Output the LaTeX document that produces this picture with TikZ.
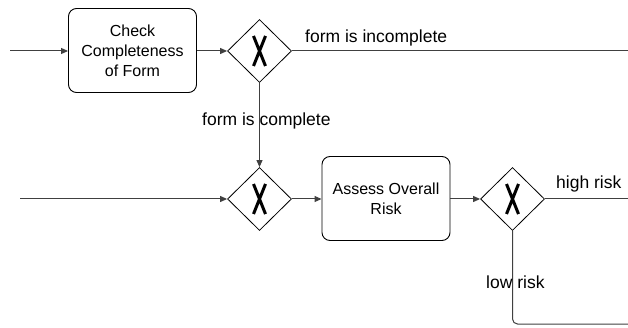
\documentclass[tikz,border=0pt]{standalone}
\usepackage{fontspec}
\setmainfont{Liberation Sans}
\usetikzlibrary{shapes.geometric,arrows.meta}
\begin{document}
\begin{tikzpicture}[x=1pt,y=-1pt,
  task/.style={draw=black,line width=0.9pt,rounded corners=8pt,minimum width=128pt,minimum height=84pt,
    align=center,inner sep=0pt,font=\fontsize{16}{20}\selectfont},
  gate/.style={draw=black,line width=0.8pt,diamond,minimum width=64pt,minimum height=63pt,inner sep=0pt,
    path picture={\draw[line width=3pt,black] ([xshift=-6pt,yshift=-15pt]path picture bounding box.center) -- ([xshift=6pt,yshift=15pt]path picture bounding box.center)
      ([xshift=-6pt,yshift=15pt]path picture bounding box.center) -- ([xshift=6pt,yshift=-15pt]path picture bounding box.center);}},
  flow/.style={draw=black!75,line width=1pt,-{Triangle[length=7pt,width=6pt]}},
  line/.style={draw=black!75,line width=1pt},
  lbl/.style={inner sep=0pt,anchor=base west,font=\fontsize{17.5}{20}\selectfont}]
\useasboundingbox (0,0) rectangle (628,328);
\node[task] (t1) at (132.5,50.5) {Check\\Completeness\\of Form};
\node[gate] (g1) at (259.5,51) {};
\node[gate] (g2) at (259.5,199) {};
\node[task] (t2) at (386,198.5) {Assess Overall\\Risk};
\node[gate] (g3) at (512.5,199) {};
\coordinate (s1) at (10,51);
\coordinate (s2) at (20,199);
\coordinate (e1) at (628,51);
\coordinate (e2) at (628,199);
\coordinate (e3) at (628,324);
\draw[flow] (s1) -- (t1.west |- s1);
\draw[flow] (t1.east |- s1) -- (g1.west);
\draw[line] (g1.east) -- (e1);
\draw[flow] (g1.south) -- (g2.north);
\draw[flow] (s2) -- (g2.west);
\draw[flow] (g2.east) -- (t2.west |- g2.west);
\draw[flow] (t2.east |- g3.west) -- (g3.west);
\draw[line] (g3.east) -- (e2);
\draw[line,rounded corners=5pt] (g3.south) |- (e3);
\node[lbl] (l1) at (305,43) {form is incomplete};
\node[lbl] (l2) at (202,126) {form is complete};
\node[lbl] (l3) at (556,189) {high risk};
\node[lbl] (l4) at (486,288) {low risk};
\end{tikzpicture}
\end{document}
